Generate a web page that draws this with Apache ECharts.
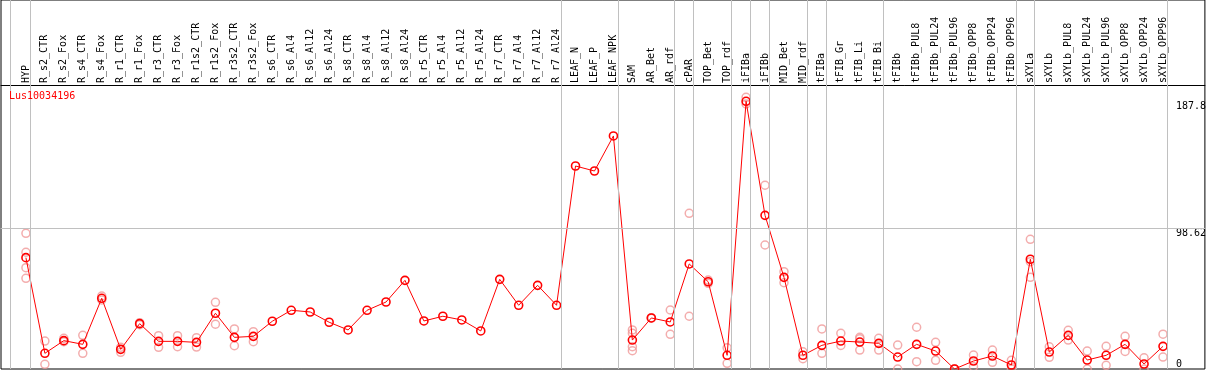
<!DOCTYPE html>
<html><head><meta charset="utf-8">
<script src="https://cdn.jsdelivr.net/npm/echarts@6/dist/echarts.min.js"></script>
<style>html,body{margin:0;padding:0;background:#fff;overflow:hidden}#c{width:1209px;height:370px}</style>
</head><body><div id="c"></div>
<script>
// ---- data ----
const geneName = 'Lus10034196';
const categories = ['HYP','R_s2_CTR','R_s2_Fox','R_s4_CTR','R_s4_Fox','R_r1_CTR','R_r1_Fox','R_r3_CTR','R_r3_Fox','R_r1s2_CTR','R_r1s2_Fox','R_r3s2_CTR','R_r3s2_Fox','R_s6_CTR','R_s6_Al4','R_s6_Al12','R_s6_Al24','R_s8_CTR','R_s8_Al4','R_s8_Al12','R_s8_Al24','R_r5_CTR','R_r5_Al4','R_r5_Al12','R_r5_Al24','R_r7_CTR','R_r7_Al4','R_r7_Al12','R_r7_Al24','LEAF_N','LEAF_P','LEAF_NPK','SAM','AR_Bet','AR_rdf','cPAR','TOP_Bet','TOP_rdf','iFIBa','iFIBb','MID_Bet','MID_rdf','tFIBa','tFIB_Gr','tFIB_Li','tFIB_Bi','tFIBb','tFIBb_PUL8','tFIBb_PUL24','tFIBb_PUL96','tFIBb_OPP8','tFIBb_OPP24','tFIBb_OPP96','sXYLa','sXYLb','sXYLb_PUL8','sXYLb_PUL24','sXYLb_PUL96','sXYLb_OPP8','sXYLb_OPP24','sXYLb_OPP96'];
const meanValues = [78.1,11.0,19.9,17.3,49.6,13.8,31.8,19.4,19.4,18.7,39.1,22.2,22.9,33.5,41.2,40.0,32.8,27.4,41.2,47.0,62.2,33.7,37.0,34.4,26.7,62.9,44.7,58.7,44.7,142.4,138.9,163.5,20.3,35.8,33.0,73.7,61.2,9.6,187.8,107.8,64.3,9.6,16.6,19.6,18.9,18.0,8.4,17.3,12.6,0,5.6,9.1,2.8,77.0,11.9,23.6,6.3,9.6,17.3,3.5,15.9];
const rep1 = [95.2,19.6,21.5,23.6,51.2,15.2,32.5,23.4,23.4,22.0,46.8,28.1,26.2,null,null,null,null,null,null,null,null,null,null,null,null,null,null,null,null,null,null,null,27.4,36.0,41.4,109.2,62.4,14.9,190.6,128.9,68.3,12.1,28.1,25.0,22.2,21.5,16.8,29.3,18.7,0,9.8,13.3,6.1,91.0,15.6,27.1,12.6,15.9,22.9,7.9,24.4];
const rep2 = [81.9,3.3,19.2,11.0,48.4,11.7,31.1,15.2,15.6,15.4,31.4,16.3,19.2,null,null,null,null,null,null,null,null,null,null,null,null,null,null,null,null,null,null,null,25.0,35.6,24.3,37.0,60.1,4.0,185.9,87.0,60.5,7.2,11.0,16.5,21.3,13.3,0,5.1,6.1,0,1.6,4.7,0,75.3,8.2,20.3,0,2.6,12.3,0,8.4];
const rep3 = [71.1,null,null,null,null,null,null,null,null,null,null,null,null,null,null,null,null,null,null,null,null,null,null,null,null,null,null,null,null,null,null,null,15.6,null,null,null,null,null,null,null,null,null,null,null,13.3,null,null,null,null,null,null,null,null,64.3,null,null,null,null,null,null,null];
const rep4 = [63.6,null,null,null,null,null,null,null,null,null,null,null,null,null,null,null,null,null,null,null,null,null,null,null,null,null,null,null,null,null,null,null,12.8,null,null,null,null,null,null,null,null,null,null,null,null,null,null,null,null,null,null,null,null,null,null,null,null,null,null,null,null];
const groupSizes = [1,28,3,3,1,2,1,1,2,1,3,7,1,7];
const yTickLabels = [98.62, 187.8];
const yZeroLabel = [0];
const refLineValue = 98.62;

// ---- layout constants ----
const FONT = 'DejaVu Sans Mono';
const PX = 19;                 // px per category
const gridLeft = 1, gridRight = 1, gridTop = 0, gridBottom = 1;
const firstX = 26;             // pixel of category 0
const plotW = 1209 - gridLeft - gridRight;
const plotH = 370 - gridTop - gridBottom;
const xMin = -(firstX - gridLeft) / PX;
const xMax = xMin + plotW / PX;
const yZeroPx = 369, yTopValPx = 101.3, yTopVal = 187.8;
const yMax = yTopVal * (yZeroPx - gridTop) / (yZeroPx - yTopValPx);
const headerBottom = 85;
const lineOff = 4.3 / PX;
const refLineOffset = -(refLineValue / yMax) * plotH;   // place a plain axis line at the reference value

const idx = categories.map((_, i) => i);
const meanData = meanValues.map((v, i) => [i, v]);
const repData = [];
[rep1, rep2, rep3, rep4].forEach(arr => arr.forEach((v, i) => { if (v !== null) repData.push([i, v]); }));

const boundaries = [];
let acc = 0;
boundaries.push({ xAxis: -1 + (10.3 - firstX + PX) / PX });
groupSizes.forEach(s => { acc += s; boundaries.push({ xAxis: acc - 1 + lineOff }); });

const chart = echarts.init(document.getElementById('c'), null, { renderer: 'canvas' });
chart.setOption({
  animation: false,
  backgroundColor: '#fff',
  title: {
    text: geneName, left: 9, top: 91, padding: 0,
    textStyle: { color: '#ff0000', fontSize: 10, fontFamily: FONT, fontWeight: 'normal' }
  },
  grid: { left: gridLeft, right: gridRight, top: gridTop, bottom: gridBottom, show: true, borderColor: '#000', borderWidth: 1 },
  xAxis: [{
    type: 'value', min: xMin, max: xMax, position: 'bottom', offset: -(yZeroPx - headerBottom),
    axisLine: { show: true, onZero: false, lineStyle: { color: '#000', width: 1 } },
    axisTick: { show: false },
    splitLine: { show: false },
    axisLabel: {
      inside: true, rotate: 90, margin: 2, customValues: idx,
      formatter: v => categories[Math.round(v)] || '',
      fontFamily: FONT, fontSize: 10, color: '#000'
    }
  }, {
    type: 'value', min: xMin, max: xMax, position: 'bottom', offset: refLineOffset,
    axisLine: { show: true, onZero: false, lineStyle: { color: '#c0c0c0', width: 1 } },
    axisTick: { show: false }, splitLine: { show: false }, axisLabel: { show: false }
  }],
  yAxis: [{
    type: 'value', min: 0, max: yMax, position: 'right',
    axisLine: { show: false }, axisTick: { show: false }, splitLine: { show: false },
    axisLabel: { inside: true, margin: 29, align: 'left', verticalAlign: 'top', customValues: yTickLabels,
      formatter: v => String(v), fontFamily: FONT, fontSize: 10, color: '#000' }
  }, {
    type: 'value', min: 0, max: yMax, position: 'right',
    axisLine: { show: false }, axisTick: { show: false }, splitLine: { show: false },
    axisLabel: { inside: true, margin: 29, align: 'left', verticalAlign: 'bottom', customValues: yZeroLabel,
      formatter: v => String(v), fontFamily: FONT, fontSize: 10, color: '#000' }
  }],
  series: [{
    type: 'scatter', data: repData, symbol: 'circle', symbolSize: 8,
    itemStyle: { color: 'rgba(0,0,0,0)', borderColor: '#f09898', borderWidth: 1.5 },
    markLine: {
      silent: true, symbol: ['none', 'none'], label: { show: false },
      lineStyle: { color: '#c0c0c0', width: 1, type: 'solid' },
      data: boundaries.concat([{ yAxis: refLineValue }])
    }
  }, {
    type: 'line', data: meanData, symbol: 'circle', symbolSize: 8,
    lineStyle: { color: '#ff0000', width: 1 },
    itemStyle: { color: 'rgba(0,0,0,0)', borderColor: '#ff0000', borderWidth: 1.6 }
  }]
});
</script>
</body></html>
